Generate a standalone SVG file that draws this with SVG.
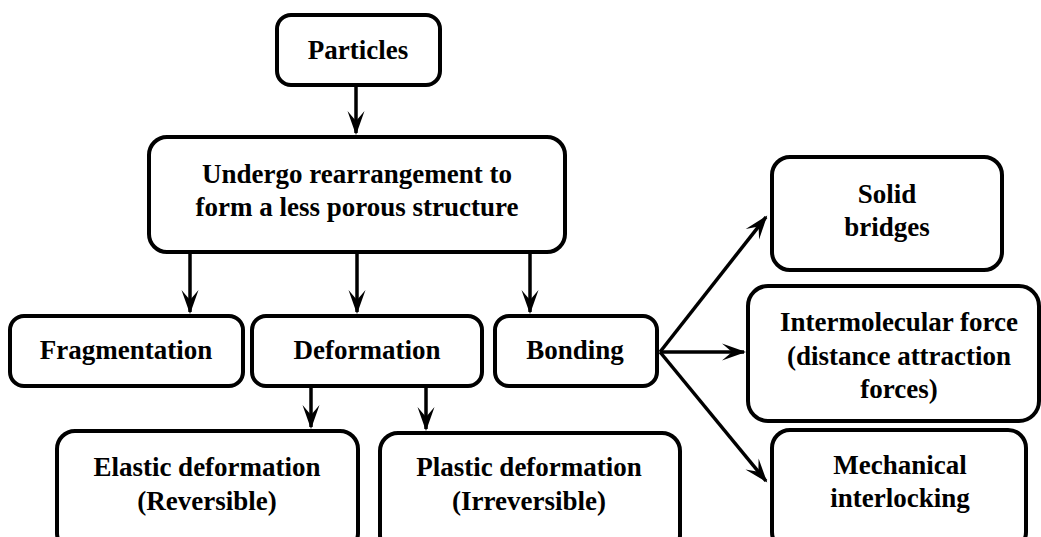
<svg xmlns="http://www.w3.org/2000/svg" width="1041" height="537" viewBox="0 0 1041 537">
<style>
.box{fill:#fff;stroke:#000;stroke-width:4}
.t{font-family:"Liberation Serif","Times New Roman",serif;font-weight:bold;font-size:27px;fill:#000;text-anchor:middle}
.c{stroke:#000;stroke-width:3.5;fill:none;marker-end:url(#ah)}
</style>
<defs>
<marker id="ah" markerUnits="userSpaceOnUse" markerWidth="30" markerHeight="22" refX="0" refY="0" viewBox="-26 -11 30 22" orient="auto">
<path d="M2,0 L-22,-8.5 L-12,0 L-22,8.5 Z" fill="#000"/>
</marker>
</defs>
<rect width="1041" height="537" fill="#fff"/>
<g id="connectors">
<line class="c" x1="356" y1="85" x2="356" y2="133"/>
<line class="c" x1="190" y1="252" x2="190" y2="312"/>
<line class="c" x1="357" y1="252" x2="357" y2="312"/>
<line class="c" x1="530" y1="249" x2="530" y2="312"/>
<line class="c" x1="311" y1="386" x2="311" y2="427"/>
<line class="c" x1="426" y1="386" x2="426" y2="429"/>
<line class="c" x1="660" y1="352" x2="766" y2="217"/>
<line class="c" x1="660" y1="352" x2="744" y2="352"/>
<line class="c" x1="660" y1="352" x2="766" y2="481"/>
</g>
<g id="particles"><rect class="box" x="277" y="15" width="163" height="70" rx="14"/><text class="t" x="358" y="59">Particles</text></g>
<g id="undergo"><rect class="box" x="149" y="137" width="416" height="115" rx="18"/><text class="t" x="357" y="183">Undergo rearrangement to</text><text class="t" x="357" y="216">form a less porous structure</text></g>
<g id="fragmentation"><rect class="box" x="10" y="316" width="233" height="70" rx="14"/><text class="t" x="126" y="359">Fragmentation</text></g>
<g id="deformation"><rect class="box" x="252" y="316" width="230" height="70" rx="14"/><text class="t" x="367" y="359">Deformation</text></g>
<g id="bonding"><rect class="box" x="495" y="316" width="162" height="70" rx="14"/><text class="t" x="575" y="359">Bonding</text></g>
<g id="elastic"><rect class="box" x="57" y="431" width="301" height="120" rx="18"/><text class="t" x="207" y="476">Elastic deformation</text><text class="t" x="207" y="510">(Reversible)</text></g>
<g id="plastic"><rect class="box" x="380" y="433" width="300" height="120" rx="18"/><text class="t" x="529" y="476">Plastic deformation</text><text class="t" x="529" y="510">(Irreversible)</text></g>
<g id="solid"><rect class="box" x="772" y="157" width="230" height="113" rx="18"/><text class="t" x="887" y="203">Solid</text><text class="t" x="887" y="236">bridges</text></g>
<g id="intermolecular"><rect class="box" x="748" y="286" width="291" height="135" rx="20"/><text class="t" x="899" y="331">Intermolecular force</text><text class="t" x="899" y="365">(distance attraction</text><text class="t" x="899" y="398">forces)</text></g>
<g id="mechanical"><rect class="box" x="772" y="430" width="254" height="120" rx="18"/><text class="t" x="900" y="474">Mechanical</text><text class="t" x="900" y="507">interlocking</text></g>
</svg>
